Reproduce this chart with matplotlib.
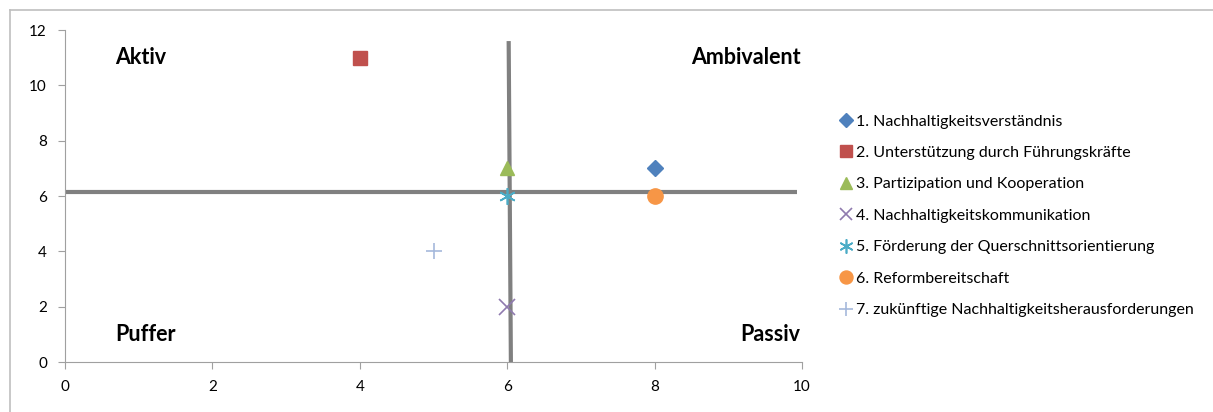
import matplotlib
matplotlib.use("Agg")
import matplotlib.pyplot as plt
from matplotlib.lines import Line2D

plt.rcParams['font.family'] = ['Lato', 'DejaVu Sans']

labels = ["1. Nachhaltigkeitsverständnis",
          "2. Unterstützung durch Führungskräfte",
          "3. Partizipation und Kooperation",
          "4. Nachhaltigkeitskommunikation",
          "5. Förderung der Querschnittsorientierung",
          "6. Reformbereitschaft",
          "7. zukünftige Nachhaltigkeitsherausforderungen"]
xs = [8, 4, 6, 6, 6, 8, 5]
ys = [7, 11, 7, 2, 6, 6, 4]
markers = ["D", "s", "^", "x", "1", "o", "+"]
colors = ["#4F81BD", "#C0504D", "#9BBB59", "#8F7AAE", "#4BACC6", "#F79646", "#A5B9DC"]
sizes = [8, 10, 10, 11, 12, 11, 12]

hline_x = [0, 9.93]
hline_y = [6.15, 6.15]
vline_x = [6.02, 6.05]
vline_y = [11.6, 0]

quadrants = [("Aktiv", 0.68, 11.0, "left"), ("Ambivalent", 9.98, 11.0, "right"),
             ("Puffer", 0.68, 1.0, "left"), ("Passiv", 9.98, 1.0, "right")]

fig = plt.figure(figsize=(12.13, 4.12), dpi=100)
ax = fig.add_axes([65/1213, 50/412, (802-65)/1213, (362-30)/412])

ax.plot(hline_x, hline_y, color="#808080", lw=3, solid_capstyle="butt", zorder=2)
ax.plot(vline_x, vline_y, color="#808080", lw=3, solid_capstyle="butt", zorder=2)

handles = []
for x, y, m, c, s, lab in zip(xs, ys, markers, colors, sizes, labels):
    mk = (6, 2, 0) if m == "1" else m
    if m in ("x", "1", "+"):
        ax.plot([x], [y], linestyle="none", marker=mk, color=c, markersize=s,
                markeredgewidth=1.2, zorder=3)
        h = Line2D([], [], linestyle="none", marker=mk, color=c,
                   markersize=s*0.85, markeredgewidth=1.2)
    else:
        ax.plot([x], [y], linestyle="none", marker=mk, color=c, markersize=s,
                markeredgecolor=c, zorder=3)
        h = Line2D([], [], linestyle="none", marker=mk, color=c,
                   markersize=s*0.85, markeredgecolor=c)
    handles.append(h)

for t, x, y, ha in quadrants:
    ax.text(x, y, t, ha=ha, va="center", fontsize=15.5, fontweight="bold", color="black")

ax.set_xlim(0, 10)
ax.set_ylim(0, 12)
ax.set_xticks([0, 2, 4, 6, 8, 10])
ax.set_yticks([0, 2, 4, 6, 8, 10, 12])
ax.tick_params(direction="out", length=5, color="#A0A0A0", labelsize=11, pad=8)
for side in ("top", "right"):
    ax.spines[side].set_visible(False)
for side in ("left", "bottom"):
    ax.spines[side].set_color("#A0A0A0")

fig.legend(handles, labels, loc="upper left", bbox_to_anchor=(832/1213, 1 - 108/412),
           frameon=False, fontsize=11.5, handletextpad=0.1, handlelength=1.0,
           labelspacing=1.08, borderaxespad=0)

fig.add_artist(Line2D([10/1213, 1], [1 - 10/412, 1 - 10/412], color="#BFBFBF", lw=1.2,
                      transform=fig.transFigure))
fig.add_artist(Line2D([10/1213, 10/1213], [0, 1 - 10/412], color="#BFBFBF", lw=1.2,
                      transform=fig.transFigure))

fig.savefig("out.png", dpi=100)
